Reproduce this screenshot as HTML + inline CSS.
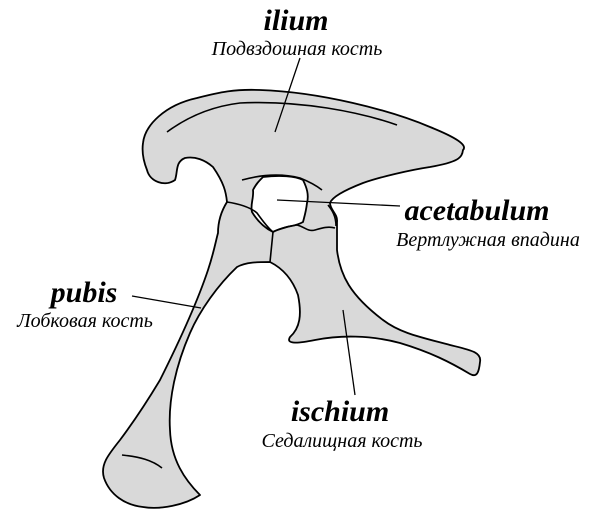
<!DOCTYPE html>
<html><head><meta charset="utf-8"><style>
body{margin:0;background:#fff;}
svg{display:block}
.b{font-family:"Liberation Serif",serif;font-style:italic;font-weight:bold;font-size:30px;fill:#000}
.r{font-family:"Liberation Serif",serif;font-style:italic;font-size:20px;fill:#000}
</style></head><body>
<svg width="600" height="517" viewBox="0 0 600 517" xmlns="http://www.w3.org/2000/svg">
<g fill="#d9d9d9" stroke="#000" stroke-width="1.8" stroke-linejoin="round">
<path d="M143,143 C145,125 165,105 197,98 C220,92 235,89 260,90 C320,92 390,110 430,127 C455,137 468,145 463,150 C462,158 458,162 430,167 C410,170 380,177 363,183 C345,190 332,197 330,203 C330,210 338,214 337,222 L337,250 C340,275 350,295 383,320 C400,333 420,337 450,345 C470,350 482,352 480,362 C479,372 477,378 470,374 C450,362 430,352 400,343 C370,335 340,335 315,340 C300,343 285,345 290,337 C300,328 302,315 298,295 C292,278 282,268 270,262 C258,262 246,262 237,267 C218,285 200,310 190,333 C176,365 168,400 170,430 C171,460 185,480 200,495 C185,505 160,510 143,507 C125,505 110,495 104,478 C100,465 108,455 120,440 C135,420 145,405 160,380 C180,340 198,300 208,270 C214,252 216,240 218,233 C218,220 222,210 227,202 C226,192 224,183 213,167 C205,160 195,156 185,158 C175,162 178,172 175,180 C165,187 150,182 147,170 C143,160 142,150 143,143 Z"/>
<path d="M263,177 C280,175 295,176 303,180 C307,188 309,195 307,203 C306,212 304,218 303,222 C296,226 290,226 287,227 C280,229 276,230 273,232 C265,228 258,222 252,212 C250,205 254,198 253,190 C256,184 259,181 263,177 Z" fill="#fff"/>
</g>
<g fill="none" stroke="#000" stroke-width="1.6">
<path d="M167,132 C190,115 215,106 240,103 C300,100 360,112 397,125"/>
<path d="M242,180 C260,175 280,173 300,178 C310,182 317,186 322,190"/>
<path d="M227,202 C240,204 250,207 257,213 C262,220 268,228 273,232 L270,262"/>
<path d="M273,232 C280,228 290,226 297,225 C305,227 308,232 315,230 C322,228 328,226 335,228"/>
<path d="M328,205 C332,210 336,216 336,226"/>
<path d="M122,455 C140,457 152,460 162,468"/>
</g>
<g stroke="#000" stroke-width="1.3">
<line x1="300" y1="58" x2="275" y2="132"/>
<line x1="277" y1="200" x2="400" y2="206"/>
<line x1="132" y1="296" x2="201" y2="308"/>
<line x1="343" y1="310" x2="355" y2="395"/>
</g>
<text class="b" x="296" y="30" text-anchor="middle">ilium</text>
<text class="r" x="297" y="55" text-anchor="middle">Подвздошная кость</text>
<text class="b" x="477" y="220" text-anchor="middle">acetabulum</text>
<text class="r" x="488" y="246" text-anchor="middle">Вертлужная впадина</text>
<text class="b" x="84" y="302" text-anchor="middle">pubis</text>
<text class="r" x="85" y="327" text-anchor="middle">Лобковая кость</text>
<text class="b" x="340" y="421" text-anchor="middle">ischium</text>
<text class="r" x="342" y="447" text-anchor="middle">Седалищная кость</text>
</svg>
</body></html>
